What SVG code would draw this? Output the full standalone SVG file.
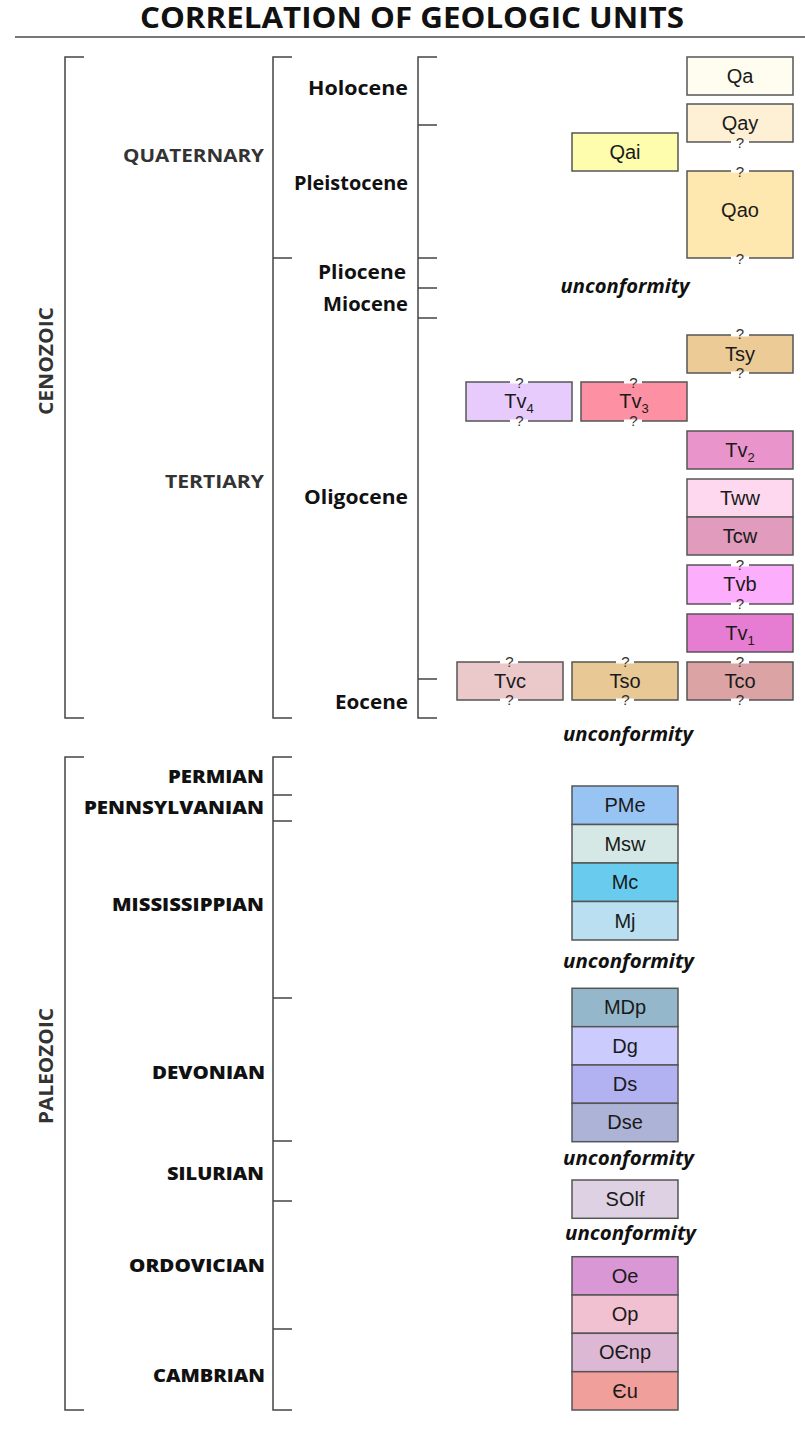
<svg xmlns="http://www.w3.org/2000/svg" width="805" height="1453" viewBox="0 0 805 1453">
<style>
.br{fill:none;stroke:#444;stroke-width:1.5}
.box{stroke:#555;stroke-width:1.5}
.lbl{font-family:"Liberation Sans",Arial,sans-serif;font-size:20px;fill:#1a1a1a;text-anchor:middle}
.sub{font-size:13px}
.q{font-family:"Liberation Sans",Arial,sans-serif;font-size:15px;fill:#333;text-anchor:middle}
.gap{fill:#fff}
.ep{font-family:"Open Sans",sans-serif;font-weight:700;font-size:19px;fill:#111;text-anchor:end}
.per{font-family:"Open Sans",sans-serif;font-weight:700;font-size:18px;fill:#333;text-anchor:end}
.pal{font-family:"Open Sans",sans-serif;font-weight:800;font-size:18px;fill:#111;text-anchor:end}
.era{font-family:"Open Sans",sans-serif;font-weight:700;font-size:20px;fill:#333;text-anchor:middle}
.unc{font-family:"Open Sans",sans-serif;font-weight:700;font-style:italic;font-size:19px;fill:#111;text-anchor:middle}
</style>
<rect width="805" height="1453" fill="#fff"/>
<text x="412" y="28" font-family="Open Sans, sans-serif" font-weight="700" font-size="28" fill="#111" text-anchor="middle" textLength="544" lengthAdjust="spacingAndGlyphs">CORRELATION OF GEOLOGIC UNITS</text>
<line x1="15" y1="37" x2="805" y2="37" stroke="#777" stroke-width="2"/>

<g id="connectors">
<path class="br" d="M84,57H65V718H84"/>
<path class="br" d="M84,757H65V1410H84"/>
<path class="br" d="M292,57H273V718H292M273,258H292"/>
<path class="br" d="M292,757H273V1410H292M273,795H292M273,821H292M273,998H292M273,1141H292M273,1201H292M273,1329H292"/>
<path class="br" d="M437,57H418V718H437M418,125H437M418,258H437M418,288H437M418,318H437M418,679H437"/>
</g>

<g id="eras">
<text class="era" transform="translate(53,361) rotate(-90)" textLength="108" lengthAdjust="spacingAndGlyphs">CENOZOIC</text>
<text class="era" transform="translate(53,1066) rotate(-90)" textLength="116" lengthAdjust="spacingAndGlyphs">PALEOZOIC</text>
</g>

<g id="periods">
<text class="per" x="264" y="162" textLength="141" lengthAdjust="spacingAndGlyphs">QUATERNARY</text>
<text class="per" x="264" y="488" textLength="99" lengthAdjust="spacingAndGlyphs">TERTIARY</text>
<text class="pal" x="264" y="783" textLength="96" lengthAdjust="spacingAndGlyphs">PERMIAN</text>
<text class="pal" x="264" y="814" textLength="180" lengthAdjust="spacingAndGlyphs">PENNSYLVANIAN</text>
<text class="pal" x="264" y="911" textLength="152" lengthAdjust="spacingAndGlyphs">MISSISSIPPIAN</text>
<text class="pal" x="265" y="1079" textLength="113" lengthAdjust="spacingAndGlyphs">DEVONIAN</text>
<text class="pal" x="264" y="1180" textLength="97" lengthAdjust="spacingAndGlyphs">SILURIAN</text>
<text class="pal" x="265" y="1272" textLength="136" lengthAdjust="spacingAndGlyphs">ORDOVICIAN</text>
<text class="pal" x="265" y="1382" textLength="112" lengthAdjust="spacingAndGlyphs">CAMBRIAN</text>
</g>

<g id="epochs">
<text class="ep" x="408" y="95" textLength="100" lengthAdjust="spacingAndGlyphs">Holocene</text>
<text class="ep" x="408" y="190" textLength="114" lengthAdjust="spacingAndGlyphs">Pleistocene</text>
<text class="ep" x="406" y="279" textLength="88" lengthAdjust="spacingAndGlyphs">Pliocene</text>
<text class="ep" x="408" y="311" textLength="85" lengthAdjust="spacingAndGlyphs">Miocene</text>
<text class="ep" x="408" y="504" textLength="104" lengthAdjust="spacingAndGlyphs">Oligocene</text>
<text class="ep" x="408" y="709" textLength="73" lengthAdjust="spacingAndGlyphs">Eocene</text>
</g>

<g id="unconformities">
<text class="unc" x="625" y="293" textLength="129" lengthAdjust="spacingAndGlyphs">unconformity</text>
<text class="unc" x="628" y="741" textLength="130" lengthAdjust="spacingAndGlyphs">unconformity</text>
<text class="unc" x="628.5" y="968" textLength="131" lengthAdjust="spacingAndGlyphs">unconformity</text>
<text class="unc" x="628.5" y="1165" textLength="131" lengthAdjust="spacingAndGlyphs">unconformity</text>
<text class="unc" x="630.5" y="1240" textLength="131" lengthAdjust="spacingAndGlyphs">unconformity</text>
</g>

<g id="Qa"><rect class="box" x="687" y="57" width="106" height="38" fill="#fffdf0"/><text class="lbl" x="740" y="82.5">Qa</text></g>
<g id="Qay"><rect class="box" x="687" y="104" width="106" height="38" fill="#fef0d5"/><text class="lbl" x="740" y="129.5">Qay</text></g>
<g id="Qai"><rect class="box" x="572" y="133" width="106" height="38" fill="#fdfdad"/><text class="lbl" x="625" y="159">Qai</text></g>
<g id="Qao"><rect class="box" x="687" y="171" width="106" height="87" fill="#ffe7b0"/><text class="lbl" x="740" y="217">Qao</text></g>
<g id="Tsy"><rect class="box" x="687" y="335" width="106" height="38" fill="#eccb97"/><text class="lbl" x="740" y="360.5">Tsy</text></g>
<g id="Tv4"><rect class="box" x="466" y="382" width="106" height="39" fill="#e8cbfd"/><text class="lbl" x="519" y="408">Tv<tspan class="sub" dy="5">4</tspan></text></g>
<g id="Tv3"><rect class="box" x="581" y="382" width="106" height="39" fill="#fd90a2"/><text class="lbl" x="634" y="408">Tv<tspan class="sub" dy="5">3</tspan></text></g>
<g id="Tv2"><rect class="box" x="687" y="431" width="106" height="38" fill="#e995cc"/><text class="lbl" x="740" y="456.5">Tv<tspan class="sub" dy="5">2</tspan></text></g>
<g id="Tww"><rect class="box" x="687" y="479" width="106" height="38" fill="#fdd8ee"/><text class="lbl" x="740" y="504.5">Tww</text></g>
<g id="Tcw"><rect class="box" x="687" y="517" width="106" height="38" fill="#e09bbd"/><text class="lbl" x="740" y="542.5">Tcw</text></g>
<g id="Tvb"><rect class="box" x="687" y="565" width="106" height="39" fill="#fcaefc"/><text class="lbl" x="740" y="591">Tvb</text></g>
<g id="Tv1"><rect class="box" x="687" y="614" width="106" height="38" fill="#e77dd2"/><text class="lbl" x="740" y="639.5">Tv<tspan class="sub" dy="5">1</tspan></text></g>
<g id="Tvc"><rect class="box" x="457" y="662" width="106" height="38" fill="#ebc8ca"/><text class="lbl" x="510" y="687.5">Tvc</text></g>
<g id="Tso"><rect class="box" x="572" y="662" width="106" height="38" fill="#e8c996"/><text class="lbl" x="625" y="687.5">Tso</text></g>
<g id="Tco"><rect class="box" x="687" y="662" width="106" height="38" fill="#dba3a3"/><text class="lbl" x="740" y="687.5">Tco</text></g>

<g id="PMe"><rect class="box" x="572" y="786" width="106" height="38.5" fill="#98c4f3"/><text class="lbl" x="625" y="812">PMe</text></g>
<g id="Msw"><rect class="box" x="572" y="824.5" width="106" height="38.5" fill="#d6e8e5"/><text class="lbl" x="625" y="850.5">Msw</text></g>
<g id="Mc"><rect class="box" x="572" y="863" width="106" height="38.5" fill="#69ccee"/><text class="lbl" x="625" y="889">Mc</text></g>
<g id="Mj"><rect class="box" x="572" y="901.5" width="106" height="38.5" fill="#b9dff0"/><text class="lbl" x="625" y="927.5">Mj</text></g>
<g id="MDp"><rect class="box" x="572" y="988.3" width="106" height="38.4" fill="#95b7cb"/><text class="lbl" x="625" y="1014.3">MDp</text></g>
<g id="Dg"><rect class="box" x="572" y="1026.7" width="106" height="38.3" fill="#cbcbfd"/><text class="lbl" x="625" y="1052.7">Dg</text></g>
<g id="Ds"><rect class="box" x="572" y="1065" width="106" height="38.3" fill="#b2b2f2"/><text class="lbl" x="625" y="1091">Ds</text></g>
<g id="Dse"><rect class="box" x="572" y="1103.3" width="106" height="38.4" fill="#adb3d6"/><text class="lbl" x="625" y="1129.3">Dse</text></g>
<g id="SOlf"><rect class="box" x="572" y="1180" width="106" height="38.3" fill="#ddd1e3"/><text class="lbl" x="625" y="1206">SOlf</text></g>
<g id="Oe"><rect class="box" x="572" y="1256.7" width="106" height="38.3" fill="#d997d6"/><text class="lbl" x="625" y="1282.7">Oe</text></g>
<g id="Op"><rect class="box" x="572" y="1295" width="106" height="38.3" fill="#f2c1d1"/><text class="lbl" x="625" y="1321">Op</text></g>
<g id="OCnp"><rect class="box" x="572" y="1333.3" width="106" height="38.4" fill="#dcb8d5"/><text class="lbl" x="625" y="1359.3">OЄnp</text></g>
<g id="Cu"><rect class="box" x="572" y="1371.7" width="106" height="38.3" fill="#f19f9b"/><text class="lbl" x="625" y="1397.7">Єu</text></g>

<g id="queries">
<rect class="gap" x="731" y="140.5" width="18" height="3"/><text class="q" x="740" y="147.5">?</text>
<rect class="gap" x="731" y="169.5" width="18" height="3"/><text class="q" x="740" y="176.5">?</text>
<rect class="gap" x="731" y="256.5" width="18" height="3"/><text class="q" x="740" y="263.5">?</text>
<rect class="gap" x="731" y="333.5" width="18" height="3"/><text class="q" x="740" y="338.5">?</text>
<rect class="gap" x="731" y="371.5" width="18" height="3"/><text class="q" x="740" y="378">?</text>
<rect class="gap" x="510" y="380.5" width="18" height="3"/><text class="q" x="519.5" y="387.5">?</text>
<rect class="gap" x="510" y="419.5" width="18" height="3"/><text class="q" x="519.5" y="426">?</text>
<rect class="gap" x="624" y="380.5" width="18" height="3"/><text class="q" x="633.5" y="387.5">?</text>
<rect class="gap" x="624" y="419.5" width="18" height="3"/><text class="q" x="633.5" y="426">?</text>
<rect class="gap" x="731" y="563.5" width="18" height="3"/><text class="q" x="740" y="570">?</text>
<rect class="gap" x="731" y="602.5" width="18" height="3"/><text class="q" x="740" y="609">?</text>
<rect class="gap" x="500" y="660.5" width="18" height="3"/><text class="q" x="509.5" y="667">?</text>
<rect class="gap" x="500" y="698.5" width="18" height="3"/><text class="q" x="509.5" y="705">?</text>
<rect class="gap" x="616" y="660.5" width="18" height="3"/><text class="q" x="625.5" y="667">?</text>
<rect class="gap" x="616" y="698.5" width="18" height="3"/><text class="q" x="625.5" y="705">?</text>
<rect class="gap" x="731" y="660.5" width="18" height="3"/><text class="q" x="740" y="667">?</text>
<rect class="gap" x="731" y="698.5" width="18" height="3"/><text class="q" x="740" y="705">?</text>
</g>
</svg>
